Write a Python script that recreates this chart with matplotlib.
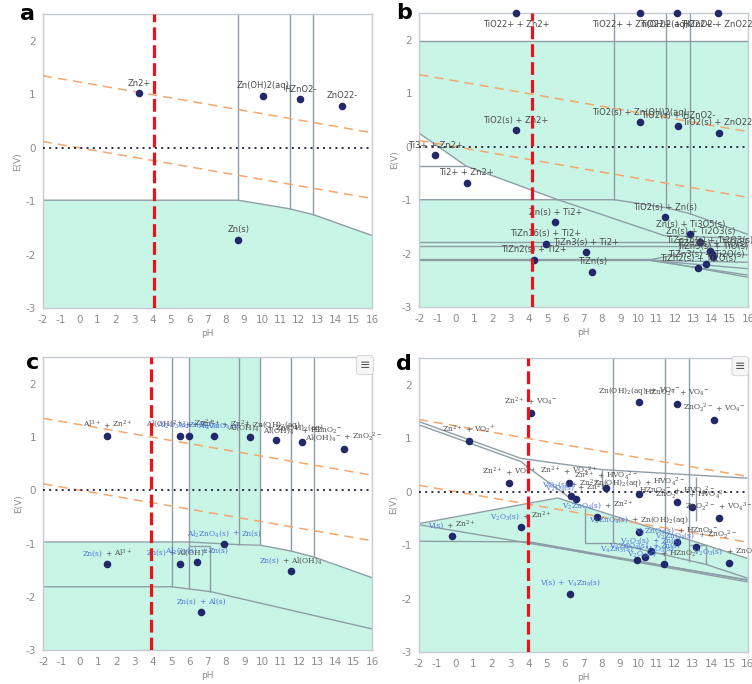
import matplotlib
matplotlib.use("Agg")
import matplotlib.pyplot as plt
from matplotlib.offsetbox import TextArea, HPacker, AnnotationBbox

plt.rcParams["mathtext.fontset"] = "dejavuserif"
plt.rcParams["axes.unicode_minus"] = False

# ---------------------------------------------------------------- common data
PH_TICKS = list(range(-2, 17))
E_TICKS = list(range(-3, 3))
PH_LIM = (-2, 16)
E_LIM = (-3, 2.5)

WATER_PH = [-2, 16]
O2_LINE_E = [1.347, 0.282]
H2_LINE_E = [0.118, -0.947]

# ---------------------------------------------------------------- panel a: Zn
A_FILL_PH = [-2, 8.67, 11.5, 12.8, 16]
A_FILL_E = [-0.98, -0.98, -1.14, -1.25, -1.64]
A_LINES = [
    ([-2, 8.67, 11.5, 12.8, 16], [-0.98, -0.98, -1.14, -1.25, -1.64]),
    ([8.67, 8.67], [2.5, -0.98]),
    ([11.5, 11.5], [2.5, -1.14]),
    ([12.8, 12.8], [2.5, -1.25]),
]
A_PT_PH = [3.29, 10.04, 12.09, 14.37, 8.69]
A_PT_E = [1.02, 0.975, 0.906, 0.78, -1.72]
A_LABELS = ["Zn2+", "Zn(OH)2(aq)", "HZnO2-", "ZnO22-", "Zn(s)"]
A_MARK_PH = 4.1

# ---------------------------------------------------------------- panel b: Ti-Zn
B_FILL_TOP_E = 1.98
B_WHITE_REGIONS = [
    ([-2, 0.56, -2], [0.25, -0.36, -0.36]),
    ([-2, 0.56, 5.5, -2], [-0.36, -0.36, -0.99, -0.99]),
]
B_LINES = [
    ([-2, 16], [1.98, 1.98]),
    ([8.67, 8.67], [2.5, -0.99]),
    ([11.52, 11.52], [2.5, -1.14]),
    ([12.8, 12.8], [2.5, -1.25]),
    ([-2, 8.67, 11.52, 12.8, 16], [-0.99, -0.99, -1.14, -1.25, -1.64]),
    ([-2, 0.56], [-0.36, -0.36]),
    ([-2, 0.56, 5.5, 11.4], [0.25, -0.36, -0.98, -1.66]),
    ([11.4, 16], [-1.66, -1.72]),
    ([-2, 16], [-1.78, -1.78]),
    ([-2, 16], [-1.85, -1.85]),
    ([-2, 10.5], [-2.09, -2.09]),
    ([-2, 10.5], [-2.12, -2.12]),
    ([10.5, 16], [-2.12, -2.16]),
    ([10.5, 16], [-2.12, -2.28]),
    ([10.5, 16], [-2.12, -2.40]),
    ([10.5, 16], [-2.10, -2.44]),
    ([10.5, 12.8, 16], [-2.12, -1.97, -2.02]),
    ([12.2, 12.2], [-1.85, -2.0]),
]
B_PT_PH = [3.3, 10.06, 12.13, 14.36, 3.3, 10.06, 12.16, 14.39, -1.12, 0.6,
           5.44, 4.91, 7.14, 4.3, 7.47, 11.45, 12.84, 13.39, 13.9, 14.0,
           14.05, 13.7, 13.28]
B_PT_E = [2.5, 2.5, 2.5, 2.5, 0.31, 0.456, 0.39, 0.26, -0.16, -0.67,
          -1.41, -1.81, -1.97, -2.11, -2.34, -1.32, -1.64, -1.78, -1.94, -2.0,
          -2.06, -2.2, -2.27]
B_LABELS = ["TiO22+ + Zn2+", "TiO22+ + Zn(OH)2(aq)", "TiO22+ + HZnO2-",
            "TiO22+ + ZnO22-", "TiO2(s) + Zn2+", "TiO2(s) + Zn(OH)2(aq)",
            "TiO2(s) + HZnO2-", "TiO2(s) + ZnO22-", "Ti3+ + Zn2+",
            "Ti2+ + Zn2+", "Zn(s) + Ti2+", "TiZn16(s) + Ti2+",
            "TiZn3(s) + Ti2+", "TiZn2(s) + Ti2+", "TiZn(s)",
            "TiO2(s) + Zn(s)", "Zn(s) + Ti3O5(s)", "Zn(s) + Ti2O3(s)",
            "TiZn16(s) + Ti2O3(s)", "TiZn2(s) + TiO(s)", "TiZn3(s) + TiO(s)",
            "TiZn3(s) + Ti2O(s)", "TiZn2(s) + Ti2O(s)"]
B_MARK_PH = 4.15

# ---------------------------------------------------------------- panel c: Al-Zn
C_FILL_PH = [-2, 5.95, 8.69, 9.88, 11.56, 12.8, 16]
C_FILL_E = [-0.97, -0.97, -1.02, -1.03, -1.14, -1.25, -1.64]
C_BAND_PH = [5.95, 9.88]
C_BAND_BOTTOM_E = -1.0
C_LINES = [
    ([-2, 5.95, 8.69, 9.88, 11.56, 12.8, 16],
     [-0.97, -0.97, -1.02, -1.03, -1.14, -1.25, -1.64]),
    ([5.95, 7.14], [-1.04, -1.04]),
    ([-2, 5.04, 5.95, 7.14, 16], [-1.81, -1.81, -1.85, -1.9, -2.6]),
    ([5.04, 5.04], [2.5, -1.81]),
    ([5.95, 5.95], [2.5, -1.85]),
    ([7.14, 7.14], [-1.04, -1.9]),
    ([8.69, 8.69], [2.5, -1.02]),
    ([9.88, 9.88], [2.5, -1.03]),
    ([11.56, 11.56], [2.5, -1.14]),
    ([12.8, 12.8], [2.5, -1.25]),
]
C_PT_PH = [1.51, 5.49, 5.95, 7.32, 9.29, 10.72, 12.18, 14.45,
           1.51, 5.49, 6.41, 7.9, 11.56, 6.63]
C_PT_E = [1.02, 1.02, 1.02, 1.02, 1.0, 0.95, 0.906, 0.78,
          -1.39, -1.39, -1.34, -1.01, -1.52, -2.28]
# each label: list of (text, is_solid)
C_LABELS = [
    [("Al$^{3+}$", 0), ("+", 0), ("Zn$^{2+}$", 0)],
    [("Al(OH)$^{2+}$", 0), ("+", 0), ("Zn$^{2+}$", 0)],
    [("Al$_2$O$_3$(s)", 1), ("+", 0), ("Zn$^{2+}$", 0)],
    [("Al$_2$ZnO$_4$(s)", 1), ("+", 0), ("Zn$^{2+}$", 0)],
    [("Al$_2$ZnO$_4$(s)", 1), ("+", 0), ("Zn(OH)$_2$(aq)", 0)],
    [("Al(OH)$_4$$^{-}$", 0), ("+", 0), ("Zn(OH)$_2$(aq)", 0)],
    [("Al(OH)$_4$$^{-}$", 0), ("+", 0), ("HZnO$_2$$^{-}$", 0)],
    [("Al(OH)$_4$$^{-}$", 0), ("+", 0), ("ZnO$_2$$^{2-}$", 0)],
    [("Zn(s)", 1), ("+", 0), ("Al$^{3+}$", 0)],
    [("Zn(s)", 1), ("+", 0), ("Al(OH)$^{2+}$", 0)],
    [("Al$_2$O$_3$(s)", 1), ("+", 1), ("Zn(s)", 1)],
    [("Al$_2$ZnO$_4$(s)", 1), ("+", 1), ("Zn(s)", 1)],
    [("Zn(s)", 1), ("+", 0), ("Al(OH)$_4$", 0)],
    [("Zn(s)", 1), ("+", 1), ("Al(s)", 1)],
]
C_MARK_PH = 3.92

# ---------------------------------------------------------------- panel d: V-Zn
D_FILL_PH = [-2, 5.6, 16]
D_FILL_E = [-0.6, -0.12, -1.25]
D_LINES = [
    ([-2, 3.6, 8.05, 16], [1.31, 0.62, 0.41, 0.25]),
    ([-2, 3.6, 4.03, 6.2], [1.25, 0.56, 0.44, -0.1]),
    ([-2, 5.6, 16], [-0.6, -0.12, -1.25]),
    ([-2, 16], [-0.62, -1.65]),
    ([-2, 4.05, 16], [-0.93, -0.94, -1.66]),
    ([4.05, 16], [-0.96, -1.69]),
    ([8.64, 13.7, 16], [-0.96, -1.36, -1.62]),
    ([8.64, 8.64], [2.5, -0.96]),
    ([11.5, 11.5], [2.5, -1.28]),
    ([12.8, 12.8], [2.5, -1.32]),
    ([13.2, 13.2], [0.27, -0.55]),
    ([7.1, 7.1], [-0.3, -0.96]),
    ([7.1, 8.64], [-0.96, -0.96]),
    ([8.05, 8.05], [0.41, 0.05]),
    ([13.7, 13.7], [-1.0, -1.36]),
    ([12.8, 13.7], [-1.0, -1.0]),
]
D_PT_PH = [4.14, 10.06, 12.12, 14.16, 0.73, 2.95, 6.2, 8.24, 10.06, 12.12,
           12.97, 14.43, 6.32, 6.6, 7.78, 10.06, 12.12, 13.19, 14.98, 9.97,
           10.39, 10.7, 11.43, -0.18, 3.59, 6.29]
D_PT_E = [1.47, 1.67, 1.64, 1.34, 0.95, 0.16, 0.16, 0.075, -0.05, -0.2,
          -0.28, -0.5, -0.075, -0.14, -0.47, -0.75, -0.94, -1.03, -1.34, -1.28,
          -1.22, -1.12, -1.36, -0.825, -0.67, -1.91]
D_LABELS = [
    [("Zn$^{2+}$", 0), ("+", 0), ("VO$_4$$^{-}$", 0)],
    [("Zn(OH)$_2$(aq)", 0), ("+", 0), ("VO$_4$$^{-}$", 0)],
    [("HZnO$_2$$^{-}$", 0), ("+", 0), ("VO$_4$$^{-}$", 0)],
    [("ZnO$_2$$^{2-}$", 0), ("+", 0), ("VO$_4$$^{-}$", 0)],
    [("Zn$^{2+}$", 0), ("+", 0), ("VO$_2$$^{+}$", 0)],
    [("Zn$^{2+}$", 0), ("+", 0), ("VO$^{2+}$", 0)],
    [("Zn$^{2+}$", 0), ("+", 0), ("VO$_3$$^{2+}$", 0)],
    [("Zn$^{2+}$", 0), ("+", 0), ("HVO$_4$$^{2-}$", 0)],
    [("Zn(OH)$_2$(aq)", 0), ("+", 0), ("HVO$_4$$^{2-}$", 0)],
    [("HZnO$_2$$^{-}$", 0), ("+", 0), ("HVO$_4$$^{2-}$", 0)],
    [("ZnO$_2$$^{2-}$", 0), ("+", 0), ("HVO$_4$$^{2-}$", 0)],
    [("ZnO$_2$$^{2-}$", 0), ("+", 0), ("VO$_4$$^{3-}$", 0)],
    [("VO$_2$(s)", 1), ("+", 0), ("Zn$^{2+}$", 0)],
    [("V$_2$O$_4$(s)", 1), ("+", 0), ("Zn$^{2+}$", 0)],
    [("V$_2$ZnO$_4$(s)", 1), ("+", 0), ("Zn$^{2+}$", 0)],
    [("V$_2$ZnO$_4$(s)", 1), ("+", 0), ("Zn(OH)$_2$(aq)", 0)],
    [("V$_2$ZnO$_4$(s)", 1), ("+", 0), ("HZnO$_2$$^{-}$", 0)],
    [("V$_2$ZnO$_4$(s)", 1), ("+", 0), ("ZnO$_2$$^{2-}$", 0)],
    [("V$_2$O$_3$(s)", 1), ("+", 0), ("ZnO$_2$$^{2-}$", 0)],
    [("V$_4$Zn$_5$(s)", 1), ("+", 1), ("V$_2$O$_3$(s)", 1)],
    [("V$_2$ZnO$_4$(s)", 1), ("+", 1), ("Zn(s)", 1)],
    [("V$_2$O$_3$(s)", 1), ("+", 1), ("Zn(s)", 1)],
    [("V$_2$O$_3$(s)", 1), ("+", 0), ("HZnO$_2$$^{-}$", 0)],
    [("V(s)", 1), ("+", 0), ("Zn$^{2+}$", 0)],
    [("V$_2$O$_3$(s)", 1), ("+", 0), ("Zn$^{2+}$", 0)],
    [("V(s)", 1), ("+", 1), ("V$_4$Zn$_9$(s)", 1)],
]
D_MARK_PH = 4.0

# ---------------------------------------------------------------- styling
MINT = "#c9f5e6"
EDGE = "#8e9ea6"
DOT = "#22296b"
TXT = "#4a4a4a"
BLUE = "#4a72dd"
TICK = "#8c8c8c"
FRAME = "#c6cbd3"

fig = plt.figure(figsize=(7.52, 6.84), dpi=100)
axes = {
    "a": fig.add_axes([0.0568, 0.5493, 0.4379, 0.4302]),
    "b": fig.add_axes([0.5576, 0.5508, 0.4373, 0.4302]),
    "c": fig.add_axes([0.0576, 0.0493, 0.4373, 0.4290]),
    "d": fig.add_axes([0.5568, 0.0468, 0.4373, 0.4300]),
}


def base(ax, letter, mark_ph, letter_xy, menu=False):
    ax.set_xlim(*PH_LIM)
    ax.set_ylim(*E_LIM)
    ax.set_xticks(PH_TICKS)
    ax.set_yticks(E_TICKS)
    ax.tick_params(length=0, labelsize=7.5, labelcolor=TICK, pad=5)
    for s in ax.spines.values():
        s.set_color(FRAME)
        s.set_linewidth(1.0)
    ax.set_xlabel("pH", fontsize=6.5, color=TICK, labelpad=3)
    ax.set_ylabel("E(V)", fontsize=6.5, color=TICK, labelpad=2)
    ax.plot(WATER_PH, O2_LINE_E, color="#f5a66b", lw=1.1, ls=(0, (6, 4)), zorder=3)
    ax.plot(WATER_PH, H2_LINE_E, color="#f5a66b", lw=1.1, ls=(0, (6, 4)), zorder=3)
    ax.axhline(0, color="#2b2d42", lw=1.4, ls=(0, (1, 2.2)), zorder=3)
    ax.axvline(mark_ph, color="#e8131b", lw=2.3, ls=(0, (4, 1.6)), zorder=8)
    ax.text(letter_xy[0], letter_xy[1], letter, transform=ax.transAxes, fontsize=16,
            fontweight="bold", color="black", ha="center", va="center")
    if menu:
        ax.text(0.978, 0.972, "\u2261", transform=ax.transAxes, fontsize=9,
                color="#555555", ha="center", va="center", zorder=9,
                bbox=dict(boxstyle="round,pad=0.25", fc="#f6f6f6", ec="#d0d0d0", lw=0.6))


def draw_lines(ax, lines):
    for ph, e in lines:
        ax.plot(ph, e, color=EDGE, lw=1.0, zorder=2, solid_capstyle="butt")


def dots(ax, ph, e):
    ax.scatter(ph, e, s=30, color=DOT, zorder=6, clip_on=False, linewidths=0)


def plain_labels(ax, ph, e, labels):
    for x, y, t in zip(ph, e, labels):
        below = y >= E_LIM[1] - 0.01
        ax.annotate(t, (x, y), xytext=(0, -5 if below else 4),
                    textcoords="offset points", ha="center",
                    va="top" if below else "bottom", fontsize=6,
                    color=TXT, zorder=7, annotation_clip=False)


def rich_labels(ax, ph, e, labels):
    for x, y, parts in zip(ph, e, labels):
        children = [TextArea(t, textprops=dict(color=BLUE if solid else TXT,
                                               fontsize=5.4, family="DejaVu Serif"))
                    for t, solid in parts]
        box = HPacker(children=children, pad=0, sep=1.8, align="baseline")
        ab = AnnotationBbox(box, (x, y), xybox=(0, 4), xycoords="data",
                            boxcoords="offset points", box_alignment=(0.5, 0.0),
                            frameon=False, pad=0, zorder=7, annotation_clip=False)
        ax.add_artist(ab)


# panel a
ax = axes["a"]
base(ax, "a", A_MARK_PH, (-0.047, 1.0))
ax.fill_between(A_FILL_PH, A_FILL_E, E_LIM[0], color=MINT, lw=0, zorder=1)
draw_lines(ax, A_LINES)
dots(ax, A_PT_PH, A_PT_E)
plain_labels(ax, A_PT_PH, A_PT_E, A_LABELS)

# panel b
ax = axes["b"]
base(ax, "b", B_MARK_PH, (-0.047, 1.0))
ax.fill_between(PH_LIM, B_FILL_TOP_E, E_LIM[0], color=MINT, lw=0, zorder=1)
for ph, e in B_WHITE_REGIONS:
    ax.fill(ph, e, color="white", lw=0, zorder=1.5)
draw_lines(ax, B_LINES)
dots(ax, B_PT_PH, B_PT_E)
plain_labels(ax, B_PT_PH, B_PT_E, B_LABELS)

# panel c
ax = axes["c"]
base(ax, "c", C_MARK_PH, (-0.032, 0.98), menu=True)
ax.fill_between(C_FILL_PH, C_FILL_E, E_LIM[0], color=MINT, lw=0, zorder=1)
ax.fill_between(C_BAND_PH, C_BAND_BOTTOM_E, E_LIM[1], color=MINT, lw=0, zorder=1)
draw_lines(ax, C_LINES)
dots(ax, C_PT_PH, C_PT_E)
rich_labels(ax, C_PT_PH, C_PT_E, C_LABELS)

# panel d
ax = axes["d"]
base(ax, "d", D_MARK_PH, (-0.045, 0.98), menu=True)
ax.fill_between(D_FILL_PH, D_FILL_E, E_LIM[0], color=MINT, lw=0, zorder=1)
draw_lines(ax, D_LINES)
dots(ax, D_PT_PH, D_PT_E)
rich_labels(ax, D_PT_PH, D_PT_E, D_LABELS)

fig.savefig("out.png", dpi=100)
